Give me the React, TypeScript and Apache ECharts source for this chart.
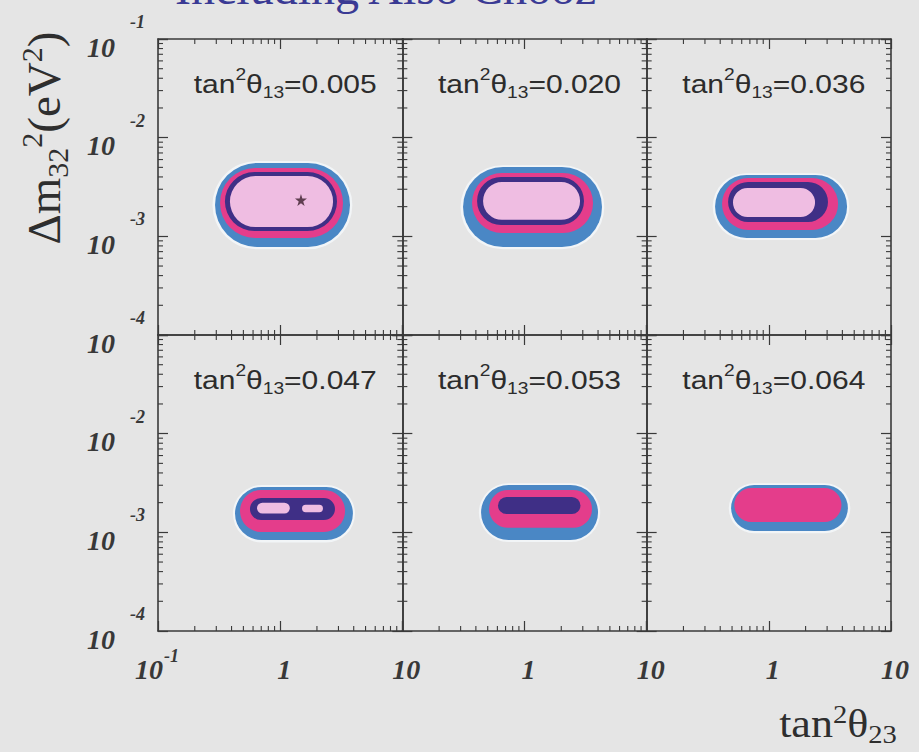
import React, { useEffect, useRef } from 'react';
import * as echarts from 'echarts';

// ---------- data ----------
const panelTan13 = ['0.005', '0.020', '0.036', '0.047', '0.053', '0.064'];
const xRange = [0.1, 10];
const yRange = [1e-4, 1e-1];
const xTickValues = [0.1, 1, 10];
const xTickMantissas = ['10', '1', '10'];
const xTickExponents = ['-1', '', ''];
const yTickValues = [1e-1, 1e-2, 1e-3, 1e-4];
const yTickExponents = ['-1', '-2', '-3', '-4'];
const xMinorTicks = [0.2, 0.3, 0.4, 0.5, 0.6, 0.7, 0.8, 0.9, 2, 3, 4, 5, 6, 7, 8, 9];
const yMinorTicks = [
  2e-4, 3e-4, 4e-4, 5e-4, 6e-4, 7e-4, 8e-4, 9e-4,
  2e-3, 3e-3, 4e-3, 5e-3, 6e-3, 7e-3, 8e-3, 9e-3,
  2e-2, 3e-2, 4e-2, 5e-2, 6e-2, 7e-2, 8e-2, 9e-2,
];

// allowed regions: [panel, tan2θ23 low, tan2θ23 high, Δm2 low, Δm2 high]
const haloRegion = [
  [0, 0.279, 3.9, 7.4e-4, 5.8e-3],
  [1, 0.299, 4.5, 7.4e-4, 5.25e-3],
  [2, 0.347, 4.56, 9.2e-4, 4.35e-3],
  [3, 0.41, 4.1, 7.9e-4, 3.02e-3],
  [4, 0.423, 4.17, 8.0e-4, 3.14e-3],
  [5, 0.47, 4.65, 9.8e-4, 3.14e-3],
];
const blueRegion = [
  [0, 0.293, 3.73, 7.8e-4, 5.54e-3],
  [1, 0.314, 4.31, 7.8e-4, 5.04e-3],
  [2, 0.363, 4.37, 9.62e-4, 4.19e-3],
  [3, 0.427, 3.94, 8.35e-4, 2.88e-3],
  [4, 0.441, 4.0, 8.35e-4, 3.02e-3],
  [5, 0.491, 4.44, 1.03e-3, 3.02e-3],
];
const magentaRegion = [
  [0, 0.322, 3.27, 9.62e-4, 4.93e-3],
  [1, 0.372, 3.64, 1.08e-3, 4.38e-3],
  [2, 0.414, 3.69, 1.16e-3, 3.9e-3],
  [3, 0.469, 3.4, 1.01e-3, 2.69e-3],
  [4, 0.513, 3.57, 1.11e-3, 2.69e-3],
  [5, 0.522, 3.93, 1.27e-3, 2.81e-3],
];
const purpleRegion = [
  [0, 0.353, 2.92, 1.13e-3, 4.49e-3],
  [1, 0.409, 3.07, 1.3e-3, 3.99e-3],
  [2, 0.464, 3.05, 1.4e-3, 3.56e-3],
  [3, 0.566, 2.81, 1.33e-3, 2.23e-3],
  [4, 0.607, 2.87, 1.53e-3, 2.28e-3],
];
const pinkRegion = [
  [0, 0.388, 2.71, 1.24e-3, 4.09e-3],
  [1, 0.458, 2.85, 1.47e-3, 3.55e-3],
  [2, 0.509, 2.39, 1.57e-3, 3.09e-3],
  [3, 0.646, 1.2, 1.55e-3, 2.0e-3],
  [3, 1.51, 2.24, 1.6e-3, 1.9e-3],
];
const bestFit = [[1.48, 2.34e-3]];

// ---------- style ----------
const LEFT = 158, TOP = 39, CW = 244.33, CH = 296;
const BG = '#e5e5e5';
const AXIS_COLOR = '#3a3a3a';
const LABEL_COLOR = '#383838';
const SERIF = '"Liberation Serif", "DejaVu Serif", serif';
const SANS = '"Liberation Sans", Arial, sans-serif';
const LEVELS = [haloRegion, blueRegion, magentaRegion, purpleRegion, pinkRegion];
const LEVEL_COLORS = ['rgba(246,250,252,0.75)', '#4a87c5', '#e43d8b', '#3f2f86', '#efbde2'];
const MINOR_LEN = 5;
const STAR = 'path://M50,0 L61,35 L98,35 L68,57 L79,91 L50,70 L21,91 L32,57 L2,35 L39,35 Z';
const TICK_FONT = { fontFamily: SERIF, fontWeight: 'bold', fontStyle: 'italic', fill: LABEL_COLOR };

function buildOption() {
  const grid: any[] = [];
  const xAxis: any[] = [];
  const yAxis: any[] = [];
  const series: any[] = [];
  const graphic: any[] = [];

  const axisLine = { show: true, onZero: false, lineStyle: { color: AXIS_COLOR, width: 1.6 } };
  const axisTick = { show: true, inside: true, length: 10, lineStyle: { color: AXIS_COLOR, width: 1.2 } };

  for (let i = 0; i < 6; i++) {
    const r = Math.floor(i / 3);
    const c = i % 3;
    grid.push({ left: LEFT + c * CW, top: TOP + r * CH, width: CW, height: CH, containLabel: false });
    const base = {
      type: 'log', logBase: 10, gridIndex: i, axisLine, axisTick,
      splitLine: { show: false }, axisLabel: { show: false },
    };
    xAxis.push({ ...base, min: xRange[0], max: xRange[1], position: 'bottom' });
    xAxis.push({ ...base, min: xRange[0], max: xRange[1], position: 'top' });
    yAxis.push({ ...base, min: yRange[0], max: yRange[1], position: 'left' });
    yAxis.push({ ...base, min: yRange[0], max: yRange[1], position: 'right' });

    // contour regions
    const rows: any[] = [];
    LEVELS.forEach((lvl, li) => {
      lvl.filter((row) => row[0] === i).forEach((row) => rows.push([row[1], row[2], row[3], row[4], li]));
    });
    series.push({
      type: 'custom', xAxisIndex: 2 * i, yAxisIndex: 2 * i, silent: true,
      encode: { x: [0, 1], y: [2, 3] },
      data: rows,
      renderItem: (_p: any, api: any) => {
        const a = api.coord([api.value(0), api.value(3)]);
        const b = api.coord([api.value(1), api.value(2)]);
        const w = b[0] - a[0];
        const h = b[1] - a[1];
        return {
          type: 'rect',
          shape: { x: a[0], y: a[1], width: w, height: h, r: Math.min(h, w) / 2 },
          style: { fill: LEVEL_COLORS[api.value(4)] },
        };
      },
    });

    // minor ticks (x)
    series.push({
      type: 'custom', xAxisIndex: 2 * i, yAxisIndex: 2 * i, silent: true,
      data: xMinorTicks.map((v) => [v, yRange[0]]),
      renderItem: (p: any, api: any) => {
        const cs = p.coordSys;
        const px = api.coord([api.value(0), yRange[0]])[0];
        const st = { stroke: AXIS_COLOR, lineWidth: 1.1 };
        return {
          type: 'group', children: [
            { type: 'line', shape: { x1: px, y1: cs.y + cs.height, x2: px, y2: cs.y + cs.height - MINOR_LEN }, style: st },
            { type: 'line', shape: { x1: px, y1: cs.y, x2: px, y2: cs.y + MINOR_LEN }, style: st },
          ],
        };
      },
    });
    // minor ticks (y)
    series.push({
      type: 'custom', xAxisIndex: 2 * i, yAxisIndex: 2 * i, silent: true,
      data: yMinorTicks.map((v) => [xRange[0], v]),
      renderItem: (p: any, api: any) => {
        const cs = p.coordSys;
        const py = api.coord([xRange[0], api.value(1)])[1];
        const st = { stroke: AXIS_COLOR, lineWidth: 1.1 };
        return {
          type: 'group', children: [
            { type: 'line', shape: { x1: cs.x, y1: py, x2: cs.x + MINOR_LEN, y2: py }, style: st },
            { type: 'line', shape: { x1: cs.x + cs.width, y1: py, x2: cs.x + cs.width - MINOR_LEN, y2: py }, style: st },
          ],
        };
      },
    });

    // y tick labels (left column)
    if (c === 0) {
      series.push({
        type: 'custom', xAxisIndex: 2 * i, yAxisIndex: 2 * i, silent: true, z: 6,
        data: yTickValues.map((v, k) => [xRange[0], v, k]).filter((d) => !(r === 1 && d[2] === 0)),
        renderItem: (p: any, api: any) => {
          const cs = p.coordSys;
          const k = api.value(2);
          const py = api.coord([xRange[0], api.value(1)])[1];
          return {
            type: 'group', children: [
              { type: 'text', x: cs.x - 43, y: py + 8, style: { ...TICK_FONT, text: '10', fontSize: 28, align: 'right', verticalAlign: 'middle' } },
              { type: 'text', x: cs.x - 13, y: py - 17, style: { ...TICK_FONT, text: yTickExponents[k], fontSize: 18, align: 'right', verticalAlign: 'middle' } },
            ],
          };
        },
      });
    }
    // x tick labels (bottom row)
    if (r === 1) {
      series.push({
        type: 'custom', xAxisIndex: 2 * i, yAxisIndex: 2 * i, silent: true, z: 6,
        data: xTickValues.map((v, k) => [v, yRange[0], k]).filter((d) => c === 0 || d[2] !== 0),
        renderItem: (p: any, api: any) => {
          const cs = p.coordSys;
          const k = api.value(2);
          const px = api.coord([api.value(0), yRange[0]])[0];
          const bottom = cs.y + cs.height;
          const exp = xTickExponents[k];
          const children: any[] = [
            { type: 'text', x: exp ? px - 9 : px + 4, y: bottom + 38, style: { ...TICK_FONT, text: xTickMantissas[k], fontSize: 28, align: 'center', verticalAlign: 'middle' } },
          ];
          if (exp) {
            children.push({ type: 'text', x: px + 6, y: bottom + 25, style: { ...TICK_FONT, text: exp, fontSize: 18, align: 'left', verticalAlign: 'middle' } });
          }
          return { type: 'group', children };
        },
      });
    }

    // panel label
    graphic.push({
      type: 'text', x: LEFT + c * CW + CW / 2 + 5, y: TOP + r * CH + 45, scaleX: 1.2, z: 10,
      style: {
        text: `tan{sup|2}θ{sub|13}=${panelTan13[i]}`,
        fontFamily: SANS, fontSize: 25, fill: '#2c2c2c', lineHeight: 34,
        align: 'center', verticalAlign: 'middle',
        rich: {
          sup: { fontFamily: SANS, fontSize: 16, fill: '#2c2c2c', lineHeight: 14, verticalAlign: 'top' },
          sub: { fontFamily: SANS, fontSize: 16, fill: '#2c2c2c', lineHeight: 6, verticalAlign: 'bottom' },
        },
      },
    });
  }

  series.push({
    type: 'scatter', xAxisIndex: 0, yAxisIndex: 0, symbol: STAR, symbolSize: 12,
    itemStyle: { color: '#3b1e2c' }, data: bestFit, z: 5,
  });

  graphic.push({
    type: 'text', x: 175, y: -13,
    style: { text: 'Including Also Chooz', fontFamily: SERIF, fontSize: 48, fill: '#3a3a94', align: 'left', verticalAlign: 'middle' },
  });
  graphic.push({
    type: 'text', x: 44, y: 138, rotation: Math.PI / 2,
    style: {
      text: 'Δm{sub|32}{sup|2}(eV{sup|2})', fontFamily: SERIF, fontSize: 47, fill: '#2e2e2e', lineHeight: 56,
      align: 'center', verticalAlign: 'middle',
      rich: {
        sub: { fontFamily: SERIF, fontSize: 30, fill: '#2e2e2e', lineHeight: 8, verticalAlign: 'bottom' },
        sup: { fontFamily: SERIF, fontSize: 30, fill: '#2e2e2e', lineHeight: 24, verticalAlign: 'top' },
      },
    },
  });
  graphic.push({
    type: 'text', x: 838, y: 724, scaleX: 1.1,
    style: {
      text: 'tan{sup|2}θ{sub|23}', fontFamily: SERIF, fontSize: 40, fill: '#2e2e2e', lineHeight: 46,
      align: 'center', verticalAlign: 'middle',
      rich: {
        sub: { fontFamily: SERIF, fontSize: 26, fill: '#2e2e2e', lineHeight: 8, verticalAlign: 'bottom' },
        sup: { fontFamily: SERIF, fontSize: 26, fill: '#2e2e2e', lineHeight: 20, verticalAlign: 'top' },
      },
    },
  });

  return { animation: false, backgroundColor: BG, grid, xAxis, yAxis, series, graphic };
}

export default function App() {
  const ref = useRef<HTMLDivElement>(null);
  useEffect(() => {
    document.body.style.margin = '0';
    if (!ref.current) return;
    const chart = echarts.init(ref.current, undefined, { renderer: 'svg' });
    chart.setOption(buildOption() as any);
    return () => chart.dispose();
  }, []);
  return <div ref={ref} style={{ width: 919, height: 752, background: BG }} />;
}
